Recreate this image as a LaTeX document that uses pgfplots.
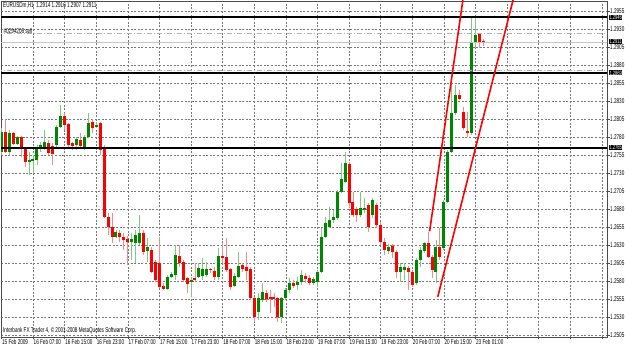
\documentclass[border=0pt]{standalone}
\usepackage{fontspec}
\setmainfont{Liberation Sans}[FakeStretch=0.66]
\usepackage{pgfplots}
\usepackage{pgfplotstable}
\pgfplotsset{compat=1.18}
\definecolor{bullbody}{RGB}{0,135,0}
\definecolor{bullwick}{RGB}{130,200,130}
\definecolor{bearbody}{RGB}{255,0,0}
\definecolor{bearwick}{RGB}{245,140,140}
\definecolor{gridc}{RGB}{120,120,120}
\newcommand{\mts}{\fontsize{7bp}{8bp}\selectfont}
\newcommand{\mtb}{\fontsize{6.2bp}{7bp}\selectfont}

\pgfplotstableread{
i o h l c
0 1.2759 1.2792 1.2755 1.2787
1 1.2787 1.2805 1.2758 1.2759
2 1.2759 1.2790 1.2755 1.2786
3 1.2786 1.2787 1.2769 1.2770
4 1.2770 1.2781 1.2769 1.2780
5 1.2780 1.2781 1.2752 1.2765
6 1.2763 1.2765 1.2738 1.2745
7 1.2745 1.2759 1.2727 1.2748
8 1.2747 1.2755 1.2730 1.2750
9 1.2748 1.2769 1.2741 1.2765
10 1.2765 1.2773 1.2759 1.2769
11 1.2766 1.2790 1.2762 1.2773
12 1.2772 1.2776 1.2755 1.2758
13 1.2768 1.2772 1.2741 1.2756
14 1.2769 1.2797 1.2766 1.2794
15 1.2794 1.2824 1.2792 1.2809
16 1.2809 1.2813 1.2790 1.2797
17 1.2798 1.2800 1.2765 1.2769
18 1.2772 1.2773 1.2762 1.2768
19 1.2769 1.2780 1.2762 1.2777
20 1.2776 1.2786 1.2765 1.2768
21 1.2765 1.2783 1.2762 1.2780
22 1.2780 1.2813 1.2779 1.2800
23 1.2801 1.2805 1.2786 1.2793
24 1.2794 1.2801 1.2792 1.2797
25 1.2800 1.2801 1.2755 1.2762
26 1.2765 1.2769 1.2668 1.2669
27 1.2669 1.2675 1.2644 1.2655
28 1.2655 1.2675 1.2633 1.2641
29 1.2641 1.2651 1.2640 1.2648
30 1.2647 1.2651 1.2634 1.2641
31 1.2641 1.2647 1.2623 1.2637
32 1.2638 1.2643 1.2602 1.2634
33 1.2634 1.2647 1.2609 1.2638
34 1.2633 1.2651 1.2605 1.2644
35 1.2633 1.2672 1.2630 1.2647
36 1.2647 1.2651 1.2616 1.2620
37 1.2622 1.2640 1.2606 1.2627
38 1.2623 1.2627 1.2591 1.2593
39 1.2606 1.2609 1.2579 1.2581
40 1.2605 1.2641 1.2570 1.2572
41 1.2573 1.2577 1.2568 1.2569
42 1.2569 1.2588 1.2568 1.2586
43 1.2586 1.2593 1.2584 1.2590
44 1.2588 1.2630 1.2581 1.2616
45 1.2615 1.2630 1.2599 1.2605
46 1.2606 1.2609 1.2579 1.2581
47 1.2584 1.2586 1.2563 1.2576
48 1.2579 1.2586 1.2558 1.2581
49 1.2584 1.2605 1.2579 1.2581
50 1.2586 1.2605 1.2584 1.2598
51 1.2587 1.2612 1.2581 1.2597
52 1.2588 1.2606 1.2586 1.2597
53 1.2597 1.2598 1.2591 1.2595
54 1.2594 1.2600 1.2581 1.2586
55 1.2586 1.2626 1.2581 1.2615
56 1.2615 1.2633 1.2605 1.2613
57 1.2613 1.2640 1.2593 1.2595
58 1.2597 1.2598 1.2568 1.2572
59 1.2573 1.2591 1.2572 1.2587
60 1.2586 1.2620 1.2584 1.2601
61 1.2602 1.2605 1.2593 1.2597
62 1.2599 1.2620 1.2581 1.2594
63 1.2597 1.2599 1.2554 1.2556
64 1.2556 1.2558 1.2523 1.2530
65 1.2537 1.2563 1.2526 1.2556
66 1.2554 1.2577 1.2551 1.2565
67 1.2563 1.2567 1.2551 1.2555
68 1.2558 1.2567 1.2536 1.2555
69 1.2558 1.2563 1.2544 1.2555
70 1.2556 1.2558 1.2523 1.2530
71 1.2530 1.2558 1.2522 1.2556
72 1.2556 1.2570 1.2554 1.2568
73 1.2568 1.2584 1.2563 1.2577
74 1.2577 1.2581 1.2570 1.2573
75 1.2574 1.2586 1.2568 1.2579
76 1.2579 1.2595 1.2574 1.2588
77 1.2587 1.2591 1.2577 1.2583
78 1.2584 1.2588 1.2574 1.2577
79 1.2577 1.2586 1.2574 1.2583
80 1.2579 1.2595 1.2572 1.2593
81 1.2593 1.2654 1.2591 1.2641
82 1.2641 1.2669 1.2640 1.2661
83 1.2655 1.2683 1.2654 1.2665
84 1.2665 1.2679 1.2661 1.2669
85 1.2668 1.2706 1.2665 1.2704
86 1.2704 1.2744 1.2702 1.2722
87 1.2718 1.2759 1.2716 1.2744
88 1.2743 1.2745 1.2681 1.2688
89 1.2690 1.2704 1.2669 1.2672
90 1.2680 1.2683 1.2662 1.2672
91 1.2672 1.2704 1.2669 1.2681
92 1.2679 1.2695 1.2675 1.2681
93 1.2685 1.2688 1.2648 1.2655
94 1.2672 1.2695 1.2668 1.2693
95 1.2685 1.2688 1.2654 1.2658
96 1.2658 1.2662 1.2630 1.2634
97 1.2634 1.2640 1.2616 1.2623
98 1.2622 1.2631 1.2618 1.2627
99 1.2629 1.2631 1.2612 1.2620
100 1.2620 1.2623 1.2584 1.2593
101 1.2593 1.2605 1.2579 1.2600
102 1.2595 1.2605 1.2581 1.2600
103 1.2598 1.2601 1.2568 1.2593
104 1.2593 1.2595 1.2572 1.2574
105 1.2577 1.2612 1.2574 1.2609
106 1.2609 1.2627 1.2600 1.2623
107 1.2622 1.2634 1.2619 1.2633
108 1.2633 1.2648 1.2612 1.2613
109 1.2613 1.2616 1.2584 1.2595
110 1.2593 1.2637 1.2577 1.2627
111 1.2627 1.2654 1.2609 1.2613
112 1.2626 1.2693 1.2623 1.2690
113 1.2690 1.2762 1.2688 1.2759
114 1.2759 1.2855 1.2758 1.2813
115 1.2813 1.2852 1.2811 1.2838
116 1.2838 1.2845 1.2831 1.2833
117 1.2815 1.2822 1.2790 1.2792
118 1.2788 1.2815 1.2780 1.2786
119 1.2786 1.2945 1.2783 1.2911
120 1.2911 1.2946 1.2904 1.2922
121 1.2925 1.2925 1.2904 1.2912
122 1.2914 1.2916 1.2907 1.2911
}\candles

\begin{document}
\begin{tikzpicture}
\begin{axis}[
  at={(1bp,9bp)}, anchor=south west,
  scale only axis, width=606bp, height=336bp,
  xmin=-0.1, xmax=153.3, ymin=1.25022, ymax=1.29689,
  clip mode=individual,
  axis line style={draw=black!70, line width=0.6bp},
  tick align=outside, major tick length=2.5bp,
  tick style={black!70, line width=0.5bp},
  xtick pos=bottom, ytick pos=right, yticklabel pos=right,
  xtick={0,8,...,152},
  xticklabels={15 Feb 2009,16 Feb 07:00,16 Feb 15:00,16 Feb 23:00,17 Feb 07:00,17 Feb 15:00,17 Feb 23:00,18 Feb 07:00,18 Feb 15:00,18 Feb 23:00,19 Feb 07:00,19 Feb 15:00,19 Feb 23:00,20 Feb 07:00,20 Feb 15:00,23 Feb 01:00,,,,},
  ytick={1.2505,1.2530,1.2555,1.2580,1.2605,1.2630,1.2655,1.2680,1.2705,1.2730,1.2755,1.2780,1.2805,1.2830,1.2855,1.2880,1.2905,1.2930,1.2955},
  scaled y ticks=false,
  yticklabel style={/pgf/number format/.cd, fixed, fixed zerofill, precision=4, assume math mode=true, /tikz/.cd, font=\mts, anchor=west, inner sep=0bp, xshift=0.5bp},
  xticklabel style={font=\mts, anchor=north west, inner sep=0pt, xshift=0.5bp},
  grid=major,
  major grid style={gridc, dash pattern=on 2bp off 1.6bp, line width=0.6bp},
  candle/.style={draw=none, mark=none, forget plot, error bars/.cd, y dir=both, y explicit, error mark=none},
]
% wicks
\addplot[candle, error bar style={draw=bullwick, line width=0.9bp}]
  table[x=i, y expr={\thisrow{c}>=\thisrow{o} ? (\thisrow{h}+\thisrow{l})/2 : 1.2}, y error expr={(\thisrow{h}-\thisrow{l})/2}] {\candles};
\addplot[candle, error bar style={draw=bearwick, line width=0.9bp}]
  table[x=i, y expr={\thisrow{c}<\thisrow{o} ? (\thisrow{h}+\thisrow{l})/2 : 1.2}, y error expr={(\thisrow{h}-\thisrow{l})/2}] {\candles};
% bodies
\addplot[candle, error bar style={draw=bullbody, line width=3bp}]
  table[x=i, y expr={\thisrow{c}>=\thisrow{o} ? (\thisrow{o}+\thisrow{c})/2 : 1.2}, y error expr={max(abs(\thisrow{c}-\thisrow{o})/2,0.00004)}] {\candles};
\addplot[candle, error bar style={draw=bearbody, line width=3bp}]
  table[x=i, y expr={\thisrow{c}<\thisrow{o} ? (\thisrow{o}+\thisrow{c})/2 : 1.2}, y error expr={max(abs(\thisrow{c}-\thisrow{o})/2,0.00004)}] {\candles};
% order / bid lines
\addplot[gray!60, line width=0.8bp, dash pattern=on 5bp off 2bp on 1bp off 2bp] coordinates {(-1,1.2924) (160,1.2924)};
\addplot[gray!60, line width=0.8bp, dash pattern=on 5bp off 2bp on 1bp off 2bp] coordinates {(-1,1.2872) (160,1.2872)};
\addplot[gray!45, line width=0.7bp] coordinates {(-1,1.2911) (160,1.2911)};
% horizontal levels
\addplot[black, line width=2bp] coordinates {(-1,1.2946) (160,1.2946)};
\addplot[black, line width=2bp] coordinates {(-1,1.2869) (160,1.2869)};
\addplot[black, line width=2bp] coordinates {(-1,1.2765) (160,1.2765)};
% trend lines
\addplot[red, line width=1.6bp] coordinates {(108.4,1.2649) (117.6,1.3000)};
\addplot[red, line width=1.6bp] coordinates {(110.46,1.2558) (130.9,1.3000)};
% labels
\node[anchor=north west, inner sep=0pt, font=\mts] at ([xshift=2bp,yshift=-1.5bp]rel axis cs:0,1) {EURUSDm,H1\ \ 1.2914 1.2916 1.2907 1.2911};
\node[anchor=south west, inner sep=0pt, font=\mts] at ([xshift=2bp]axis cs:0,1.2924) {\#0294206 sell};
\node[anchor=south west, inner sep=0pt, font=\mts] at ([xshift=2bp,yshift=3bp]rel axis cs:0,0) {Interbank FX Trader 4, © 2001-2008 MetaQuotes Software Corp.};
\node[anchor=west, fill=black, text=white, inner sep=0.3bp, font=\mtb] at ([xshift=2bp]axis cs:153.3,1.2946) {1.2946};
\node[anchor=west, fill=black, text=white, inner sep=0.3bp, font=\mtb] at ([xshift=2bp,yshift=1.3bp]axis cs:153.3,1.2911) {1.2911};
\node[anchor=west, fill=black, text=white, inner sep=0.3bp, font=\mtb] at ([xshift=2bp]axis cs:153.3,1.2869) {1.2869};
\node[anchor=west, fill=black, text=white, inner sep=0.3bp, font=\mtb] at ([xshift=2bp]axis cs:153.3,1.2765) {1.2765};
\end{axis}
\pgfresetboundingbox
\path[use as bounding box] (0,0) rectangle (625bp,346bp);
\end{tikzpicture}
\end{document}
